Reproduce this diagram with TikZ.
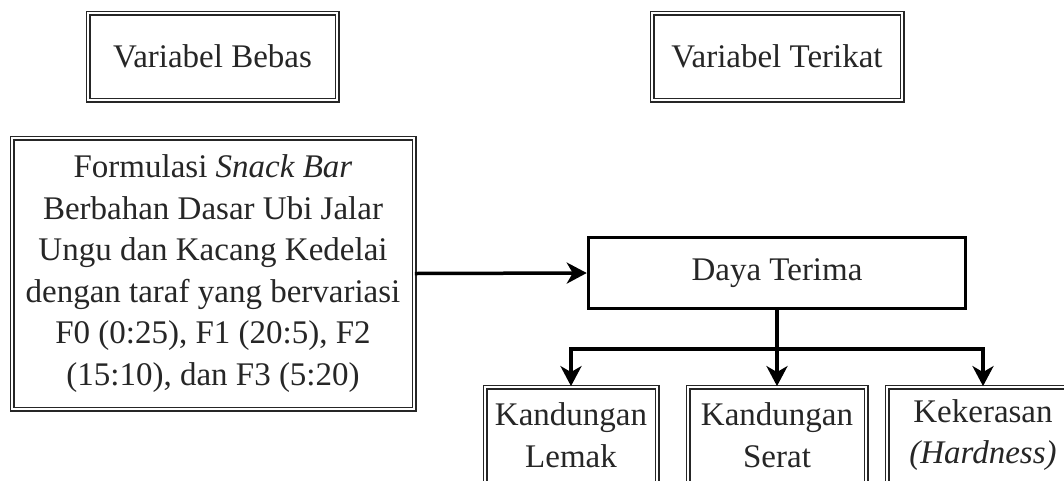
\documentclass[tikz,border=0pt]{standalone}
\usepackage{fontspec}
\setmainfont{Liberation Serif}
\usetikzlibrary{arrows.meta}
\begin{document}
\begin{tikzpicture}[x=1pt,y=-1pt,
  txt/.style={font=\fontsize{33}{41.5}\selectfont, text=black!85, align=center, inner sep=0pt},
  dbox/.style={txt, draw=black!85, line width=1.8pt, double=white, double distance=1.4pt},
  sbox/.style={txt, draw=black, line width=3.5pt},
  conn/.style={draw=black, line width=3.5pt},
  arr/.style={conn, -{Stealth[length=20pt,width=21pt,inset=6pt]}}]
\clip (0,0) rectangle (1064,480);
\fill[white] (0,0) rectangle (1064,480);
\node[dbox, minimum width=249pt, minimum height=87pt] (vb) at (212.5,56.5) {Variabel Bebas};
\node[dbox, minimum width=250pt, minimum height=87pt] (vt) at (777,56.5) {Variabel Terikat};
\node[dbox, minimum width=402pt, minimum height=271pt] (form) at (213,273.5)
  {Formulasi \textit{Snack Bar}\\Berbahan Dasar Ubi Jalar\\Ungu dan Kacang Kedelai\\dengan taraf yang bervariasi\\F0 (0:25), F1 (20:5), F2\\(15:10), dan F3 (5:20)};
\node[sbox, minimum width=377pt, minimum height=71pt] (dt) at (777,273) {Daya Terima};
\node[dbox, minimum width=172pt, minimum height=96pt] (k1) at (571,435) {Kandungan\\Lemak};
\node[dbox, minimum width=178pt, minimum height=96pt] (k2) at (777,435) {Kandungan\\Serat};
\node[dbox, minimum width=192pt, minimum height=96pt] (k3) at (983,435) {Kekerasan\\\textit{(Hardness)}};
\coordinate (j) at (777,349);
\draw[arr] (form.east) -- (dt.west);
\draw[arr] (dt.south) -- (k2.north);
\draw[arr] (j) -| (k1.north);
\draw[arr] (j) -| (k3.north);
\end{tikzpicture}
\end{document}
